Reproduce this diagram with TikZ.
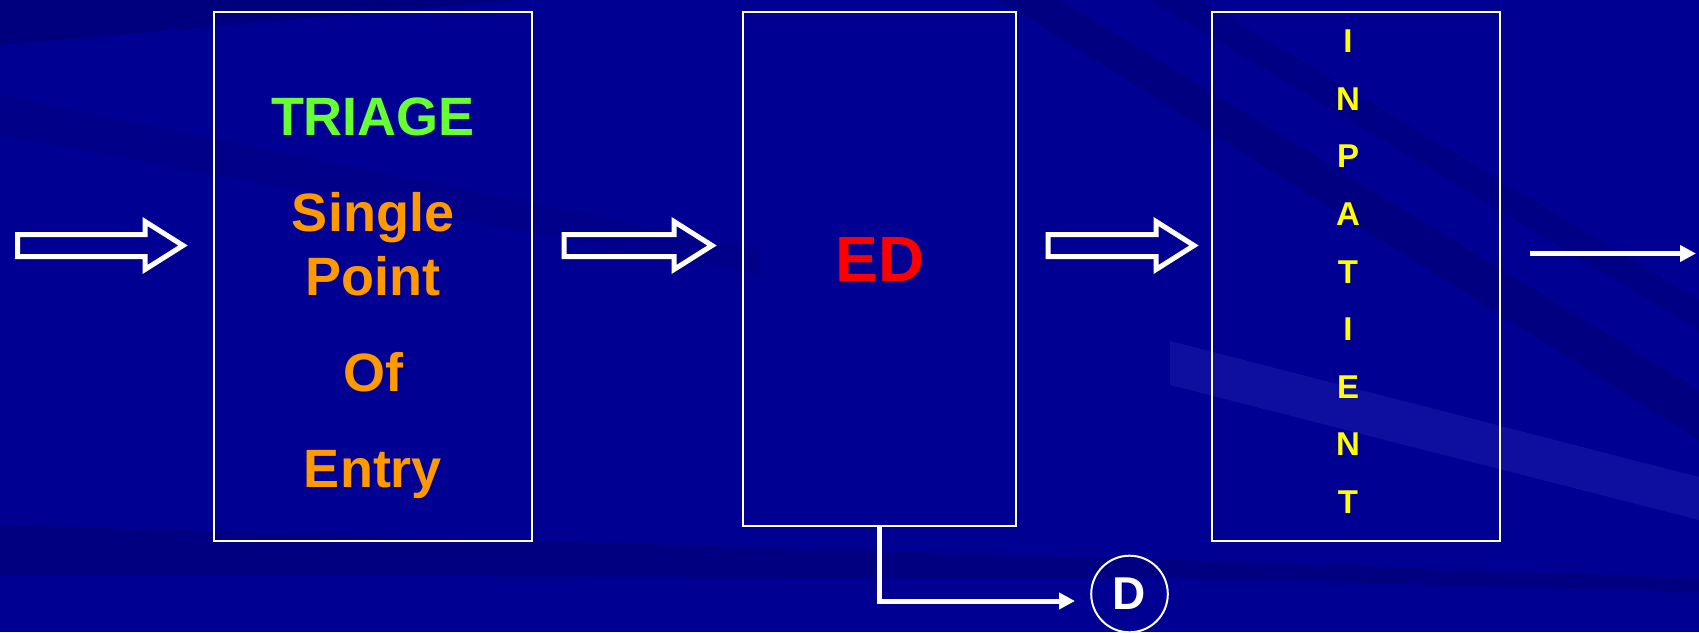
\documentclass[tikz,border=0pt]{standalone}
\usepackage{fontspec}
\setmainfont{Liberation Sans}
\usepackage{tikz}
\usetikzlibrary{arrows.meta, calc, positioning}
\definecolor{bgblue}{RGB}{0,0,146}
\definecolor{bgdark}{RGB}{0,0,100}
\definecolor{bglight}{RGB}{60,60,200}
\definecolor{triagegreen}{HTML}{66FF33}
\definecolor{entryorange}{HTML}{FF9900}
\definecolor{edred}{HTML}{FF0000}
\definecolor{inpatyellow}{HTML}{FFFF00}
\newcommand{\fatarrow}[2]
{
	\draw[fatline] let \p1=(#1), \p2=(#2) in (\x1,\y1+11pt) -- (\x2-38pt,\y1+11pt) -- (\x2-38pt,\y1+24pt) -- (\x2,\y1) -- (\x2-38pt,\y1-24pt) -- (\x2-38pt,\y1-11pt) -- (\x1,\y1-11pt) -- cycle
}

\begin{document}
\begin{tikzpicture}[x=1pt, y=-1pt,
box/.style={shape=rectangle, draw=white, line width=2pt, inner sep=0pt},
title/.style={font=\bfseries\fontsize{54}{60}\selectfont, anchor=base},
letter/.style={font=\bfseries\fontsize{33}{36}\selectfont, text=inpatyellow, anchor=base},
fatline/.style={draw=white, line width=5pt, line join=miter},
link/.style={draw=white, line width=5pt, -{Triangle[length=16pt, width=16pt]}}]

% background
\fill[bgblue] (0,0) rectangle (1699,632);
\fill[bgdark, opacity=0.4] (0,0) -- (520,0) -- (0,45) -- cycle;
\fill[bgdark, opacity=0.2] (0,95) -- (760,250) -- (760,275) -- (0,135) -- cycle;
\fill[bgdark, opacity=0.35] (1000,0) -- (1060,0) -- (1699,390) -- (1699,440) -- cycle;
\fill[bgdark, opacity=0.3] (1150,0) -- (1200,0) -- (1699,300) -- (1699,330) -- cycle;
\fill[bgdark, opacity=0.35] (0,525) -- (1180,560) -- (1699,578) -- (1699,592) -- (1180,578) -- (0,575) -- cycle;
\fill[bglight, opacity=0.25] (1170,341) -- (1699,477) -- (1699,520) -- (1170,385) -- cycle;
\useasboundingbox (0,0) rectangle (1699,632);

% boxes
\node[box, minimum width=318pt, minimum height=529pt] at (373,276.2) (triage){};
\node[box, minimum width=273pt, minimum height=514pt] at (879.5,268.7) (ed){};
\node[box, minimum width=288pt, minimum height=529pt] at (1356,276.3) (inpat){};

% texts
\node[title, text=triagegreen] at (373,135) (t1){TRIAGE};
\node[title, text=entryorange] at (373,231.8) (t2){Single};
\node[title, text=entryorange] at (373,295) (t3){Point};
\node[title, text=entryorange] at (373,391.3) (t4){Of};
\node[title, text=entryorange] at (373,487.7) (t5){Entry};
\node[title, text=edred, font=\bfseries\fontsize{64}{70}\selectfont] at (880,281) (t6){ED};
\foreach \ch [count=\i from 0] in {I,N,P,A,T,I,E,N,T}
	\node[letter] at (1348,52.7+57.6*\i) (inp\i){\ch};

% discharge
\node[circle, draw=white, line width=2pt, inner sep=0pt, minimum size=76.6pt, text=white, font=\bfseries\fontsize{46}{50}\selectfont] at (1129.5,594) (dis){D};
\coordinate (dtip) at (1075,601);
\draw[link] (ed.south) |- (dtip);

% flow arrows
\coordinate (src) at (17.5,245.5);
\fatarrow{src}{$(triage.west |- src)+(-30,0)$};
\fatarrow{$(triage.east |- src)+(31,0)$}{$(ed.west |- src)+(-30,0)$};
\fatarrow{$(ed.east |- src)+(31,0)$}{$(inpat.west |- src)+(-17,0)$};
\coordinate (outA) at (1530,253.5);
\coordinate (outB) at (1696,253.5);
\draw[link] (outA) -- (outB);
\end{tikzpicture}
\end{document}
